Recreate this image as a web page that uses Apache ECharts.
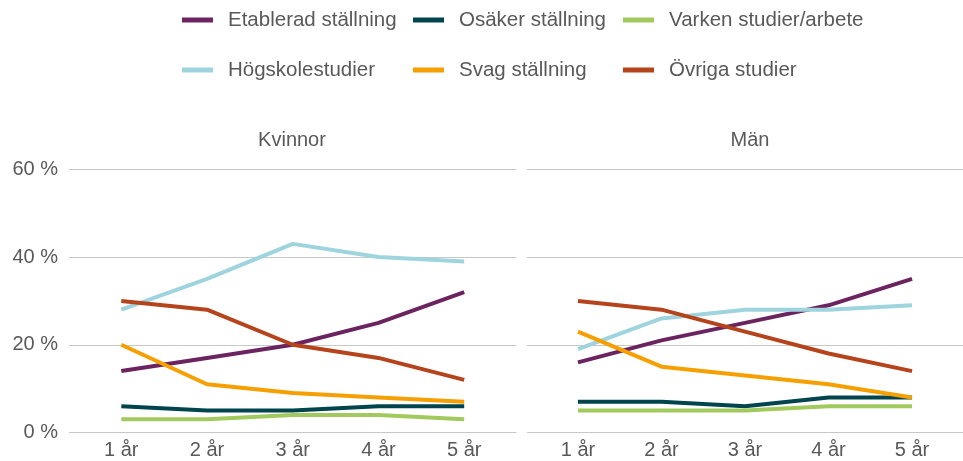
<!DOCTYPE html>
<html><head><meta charset="utf-8">
<script src="https://cdn.jsdelivr.net/npm/echarts@6/dist/echarts.min.js"></script>
<style>html,body{margin:0;padding:0;background:#fff}#c{width:963px;height:461px}</style>
</head><body><div id="c"></div>
<script>
const categories = ['1 år', '2 år', '3 år', '4 år', '5 år'];
const yTicks = [0, 20, 40, 60];
const panels = ['Kvinnor', 'Män'];
const seriesNames = ['Etablerad ställning', 'Osäker ställning', 'Varken studier/arbete', 'Högskolestudier', 'Svag ställning', 'Övriga studier'];
const colors = ['#6C2460', '#00454E', '#A2C95D', '#9DD4DE', '#F5A000', '#B5441D'];

// Kvinnor
const kvEtablerad = [14, 17, 20, 25, 32];
const kvOsaker = [6, 5, 5, 6, 6];
const kvVarken = [3, 3, 4, 4, 3];
const kvHogskole = [28, 35, 43, 40, 39];
const kvSvag = [20, 11, 9, 8, 7];
const kvOvriga = [30, 28, 20, 17, 12];
// Män
const maEtablerad = [16, 21, 25, 29, 35];
const maOsaker = [7, 7, 6, 8, 8];
const maVarken = [5, 5, 5, 6, 6];
const maHogskole = [19, 26, 28, 28, 29];
const maSvag = [23, 15, 13, 11, 8];
const maOvriga = [30, 28, 23, 18, 14];

const panelData = [
  [kvEtablerad, kvOsaker, kvVarken, kvHogskole, kvSvag, kvOvriga],
  [maEtablerad, maOsaker, maVarken, maHogskole, maSvag, maOvriga]
];

const FONT = '"Liberation Sans", Arial, sans-serif';
const TXT = '#595959';
const GRIDC = '#c8c8c8';

const gridLefts = [69, 527];
const titleCenters = [292, 750];

const grids = gridLefts.map(l => ({left: l, top: 169.3, width: 447.5, height: 263.2, containLabel: false}));
const xAxes = gridLefts.map((l, i) => ({
  type: 'value', gridIndex: i, min: 0.39, max: 5.61,
  axisLine: {show: false}, axisTick: {show: false}, splitLine: {show: false},
  axisLabel: {
    customValues: categories.map((c, k) => k + 1),
    formatter: v => categories[Math.round(v) - 1] || '',
    color: TXT, fontSize: 20, fontFamily: FONT, margin: 8
  }
}));
const yAxes = gridLefts.map((l, i) => ({
  type: 'value', gridIndex: i, min: yTicks[0], max: yTicks[yTicks.length - 1], interval: 20,
  axisLine: {show: false}, axisTick: {show: false},
  splitLine: {show: true, lineStyle: {color: GRIDC, width: 1}},
  axisLabel: {show: i === 0, formatter: '{value} %', color: TXT, fontSize: 20, fontFamily: FONT, margin: 11}
}));

const series = [];
panelData.forEach((arrs, p) => {
  arrs.forEach((vals, s) => {
    series.push({
      name: seriesNames[s], type: 'line', xAxisIndex: p, yAxisIndex: p,
      data: vals.map((v, k) => [k + 1, v]),
      symbol: 'none', lineStyle: {width: 4, color: colors[s]}, itemStyle: {color: colors[s]},
      emphasis: {disabled: true}, animation: false
    });
  });
});

const legendCols = [[0, 3], [1, 4], [2, 5]];
const legendLefts = [182, 413, 623];
const legends = legendCols.map((col, i) => ({
  orient: 'vertical', left: legendLefts[i], top: 8, padding: 0,
  data: col.map(k => ({name: seriesNames[k], icon: 'rect'})),
  itemWidth: 31, itemHeight: 5, itemGap: 26,
  selectedMode: false,
  textStyle: {color: TXT, fontSize: 20.5, fontFamily: FONT, lineHeight: 24, padding: [0, 0, 0, 10]}
}));

const titles = panels.map((t, i) => ({
  text: t, left: titleCenters[i], top: 130, textAlign: 'center', padding: 0,
  textStyle: {color: TXT, fontSize: 20, fontWeight: 'normal', fontFamily: FONT}
}));

const chart = echarts.init(document.getElementById('c'), null, {renderer: 'canvas'});
chart.setOption({
  animation: false,
  backgroundColor: '#fff',
  color: colors,
  title: titles,
  legend: legends,
  grid: grids,
  xAxis: xAxes,
  yAxis: yAxes,
  series: series
});
</script>
</body></html>
